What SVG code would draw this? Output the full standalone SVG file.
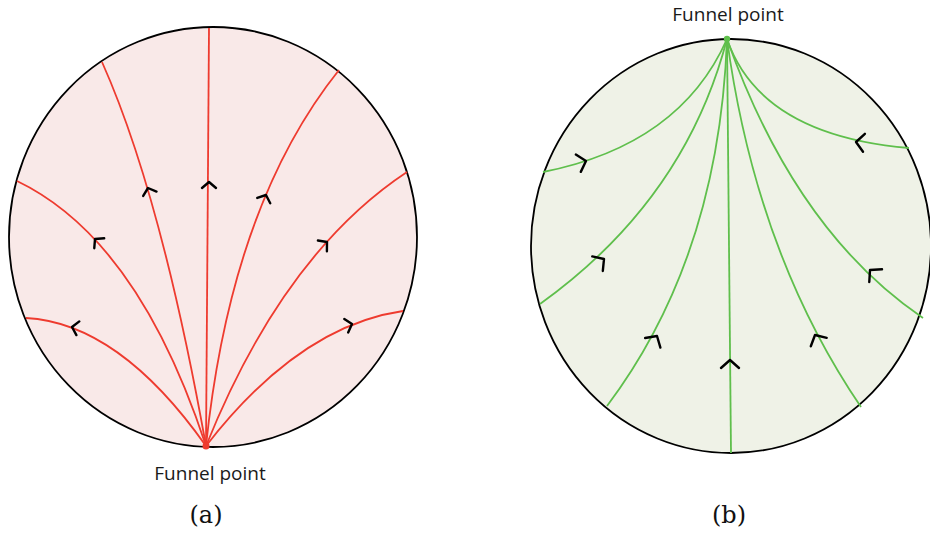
<svg xmlns="http://www.w3.org/2000/svg" width="930" height="534" viewBox="0 0 930 534">
<defs>
<style>
.disk{stroke:#000;stroke-width:1.8}
.ra{fill:#f9e9e8}
.gb{fill:#eff2e7}
.red{fill:none;stroke:#ee3b2f;stroke-width:1.8}
.grn{fill:none;stroke:#5fbf4c;stroke-width:1.8}
.chev{fill:none;stroke:#000;stroke-width:2.4;stroke-linecap:round;stroke-linejoin:round}
.lbl{font-family:"Open Sans","Noto Sans",sans-serif;font-size:19px;fill:#1a1a1a;text-anchor:middle}
.cap{font-family:"DejaVu Serif","Liberation Serif",serif;font-size:24px;fill:#111;text-anchor:middle}
</style>
<path id="ch" d="M-6,-7 L0,0 L-6,7"/>
<path id="chb" d="M-8,-9 L0,0 L-8,9"/>
</defs>

<g id="panel-a">
<ellipse class="disk ra" cx="213" cy="237" rx="204" ry="210"/>
<g id="connectors-a">
<path class="red" d="M209,28 L206,446"/>
<path class="red" d="M102,62 Q161,194 206,446"/>
<path class="red" d="M17,181 Q138,239 206,446"/>
<path class="red" d="M26,318 Q119,323 206,446"/>
<path class="red" d="M339,70 Q231,205 206,446"/>
<path class="red" d="M407,172 Q283,254 206,446"/>
<path class="red" d="M403,311 Q299,326 206,446"/>
</g>
<g id="arrows-a">
<use href="#ch" class="chev" transform="translate(209,182) rotate(-90)"/>
<use href="#ch" class="chev" transform="translate(148,188) rotate(-108)"/>
<use href="#ch" class="chev" transform="translate(95,239) rotate(-135)"/>
<use href="#ch" class="chev" transform="translate(72,327) rotate(-168)"/>
<use href="#ch" class="chev" transform="translate(266,195) rotate(-68)"/>
<use href="#ch" class="chev" transform="translate(327,242) rotate(-40)"/>
<use href="#ch" class="chev" transform="translate(352,324) rotate(-16)"/>
</g>
<circle id="funnel-a" cx="206" cy="446" r="3.5" fill="#ee3b2f"/>
<text class="lbl" x="210" y="480">Funnel point</text>
<text class="cap" x="206" y="523">(a)</text>
</g>

<g id="panel-b">
<ellipse class="disk gb" cx="731" cy="246" rx="200" ry="207"/>
<g id="connectors-b">
<path class="grn" d="M731,453 L727,39"/>
<path class="grn" d="M543,172 Q680,145 727,39"/>
<path class="grn" d="M540,304 Q685,200 727,39"/>
<path class="grn" d="M607,406 Q719,257 727,39"/>
<path class="grn" d="M909,148 Q760,135 727,39"/>
<path class="grn" d="M923,318 Q795,231 727,39"/>
<path class="grn" d="M861,407 Q756,253 727,39"/>
</g>
<g id="arrows-b">
<use href="#chb" class="chev" transform="translate(730,360) rotate(-90)"/>
<use href="#chb" class="chev" transform="translate(586,161) rotate(-16)"/>
<use href="#chb" class="chev" transform="translate(604,259) rotate(-36)"/>
<use href="#chb" class="chev" transform="translate(657,336) rotate(-58)"/>
<use href="#chb" class="chev" transform="translate(856,142) rotate(-174)"/>
<use href="#chb" class="chev" transform="translate(870,270) rotate(-135)"/>
<use href="#chb" class="chev" transform="translate(815,335) rotate(-118)"/>
</g>
<circle id="funnel-b" cx="727" cy="39" r="3.2" fill="#5fbf4c"/>
<text class="lbl" x="728" y="21">Funnel point</text>
<text class="cap" x="729" y="523">(b)</text>
</g>
</svg>
